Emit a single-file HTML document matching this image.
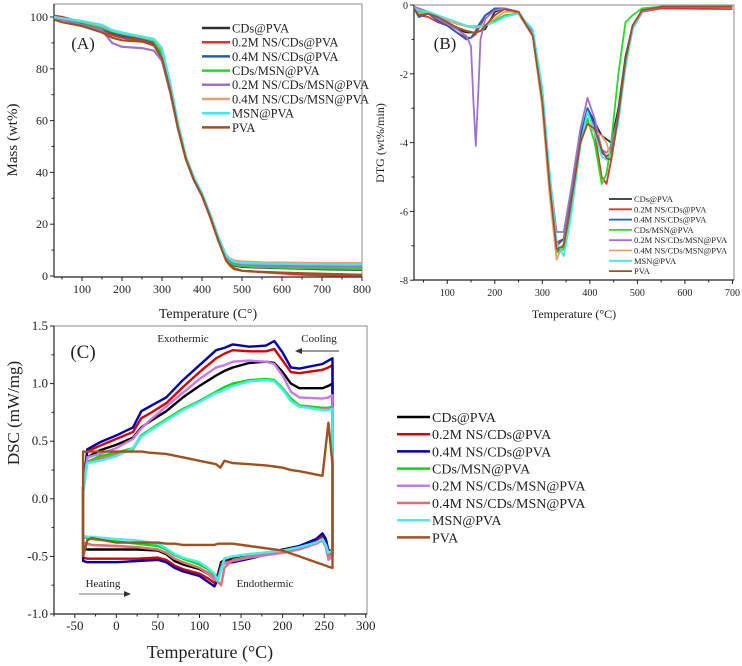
<!DOCTYPE html>
<html><head><meta charset="utf-8"><style>
html,body{margin:0;padding:0;background:#fff;}
svg{display:block;font-family:"Liberation Serif",serif;}
</style></head><body>
<svg id="fig" width="742" height="666" viewBox="0 0 742 666" xmlns="http://www.w3.org/2000/svg">
<defs>
<clipPath id="clipA"><rect x="54" y="4" width="308" height="273"/></clipPath>
<clipPath id="clipB"><rect x="414" y="5" width="320" height="275"/></clipPath>
<clipPath id="clipC"><rect x="54" y="326" width="313" height="288"/></clipPath>
</defs>
<g id="panelA"></g>
<g id="panelB"></g>
<g id="panelC"></g>
</svg>
<script>
// ---------- data ----------
const seriesNames = ["CDs@PVA","0.2M NS/CDs@PVA","0.4M NS/CDs@PVA","CDs/MSN@PVA","0.2M NS/CDs/MSN@PVA","0.4M NS/CDs/MSN@PVA","MSN@PVA","PVA"];
const colorsAB = ["#303030","#e03030","#1f5fbf","#22dd22","#a070d0","#e8a070","#40e8f0","#a0521e"];
const colorsC = ["#000000","#d80000","#0000b0","#00e000","#c878e8","#e07070","#40f0f0","#a0521e"];

// Panel A: TGA
const tempA = [30,50,100,150,175,200,250,280,300,320,340,360,380,400,420,440,460,470,480,500,550,600,650,700,750,800];
const massCDs = [100,99,97.5,95,93.5,92.5,91.5,90,85,72,57,45,37,31,23,14.5,7,5,4,3.5,3.2,3,2.8,2.6,2.5,2.4];
const mass02NS = [100.5,100,98,95,93,92,91,89.5,85,72,57,45,37,31,23,14,6.5,4.5,3,2,1.5,1,0.5,0.3,0.2,0.2];
const mass04NS = [100,99.3,97.8,95.5,94,93,91.8,90.3,85.5,72.5,57.5,45.5,37.5,31.5,23.5,15,7.5,5.5,4.6,4.2,4,3.9,3.8,3.8,3.7,3.7];
const massCDsMSN = [100,99.4,98,96,94.5,93.5,92,90.8,86,73,58,45.5,37.5,31.5,23.5,15,7.5,5.5,4.3,3.8,3.4,3.2,3,2.9,2.8,2.7];
const mass02NSMSN = [100,99,97,95,90,88.5,88,87,83,71,57,45,37,31,23,14.5,7.5,6,5,4.5,4,4,3.8,3.7,3.6,3.5];
const mass04NSMSN = [100,99.5,98.3,96.5,94.8,93.8,92.3,91.2,87.5,74.5,59,46,38,32,24,15.5,8.2,6.8,6,5.6,5.3,5.2,5.1,5,5,5];
const massMSN = [100,99.5,98.5,97,95,94,92.5,91.5,88,75,59,46,38,32,24,15.5,8,6.5,5.5,5,4.8,4.7,4.6,4.5,4.4,4.4];
const massPVA = [99,98,96.5,94,92,91,90.5,89,84,72,57,45,37,31,23,14,6,4,2.7,2,1.6,1.3,1.1,0.9,0.7,0.5];
const massSeries = [massCDs,mass02NS,mass04NS,massCDsMSN,mass02NSMSN,mass04NSMSN,massMSN,massPVA];
const ticksAx = [100,200,300,400,500,600,700,800];
const ticksAy = [0,20,40,60,80,100];

// Panel B: DTG
const tempB = [30,40,60,80,100,120,140,150,155,160,165,170,180,200,220,250,280,300,315,330,345,360,380,395,410,425,435,445,460,475,490,510,550,700];
const dtgCDs = [-0.1,-0.3,-0.25,-0.4,-0.55,-0.7,-0.8,-0.8,-0.8,-0.8,-0.78,-0.75,-0.7,-0.2,-0.1,-0.2,-0.9,-2.9,-5.3,-7.2,-7.0,-5.8,-3.9,-3.0,-3.4,-3.8,-3.9,-4.0,-3.0,-1.5,-0.6,-0.15,-0.05,-0.05];
const dtg02NS = [-0.1,-0.3,-0.35,-0.5,-0.6,-0.8,-0.95,-0.95,-0.9,-0.85,-0.7,-0.6,-0.3,-0.15,-0.12,-0.25,-0.9,-2.8,-5.1,-6.9,-6.8,-5.7,-3.9,-3.1,-3.7,-5.0,-5.2,-4.5,-3.3,-1.8,-0.7,-0.2,-0.1,-0.12];
const dtg04NS = [-0.1,-0.35,-0.25,-0.45,-0.6,-0.8,-1.0,-0.95,-0.85,-0.75,-0.6,-0.5,-0.3,-0.1,-0.1,-0.2,-0.9,-2.9,-5.2,-7.0,-6.8,-5.6,-3.8,-3.0,-3.5,-4.3,-4.4,-4.3,-3.1,-1.6,-0.6,-0.15,-0.05,-0.05];
const dtgCDsMSN = [-0.1,-0.2,-0.2,-0.3,-0.4,-0.5,-0.6,-0.62,-0.62,-0.62,-0.62,-0.6,-0.6,-0.45,-0.3,-0.25,-0.8,-2.7,-5.1,-7.2,-7.1,-5.9,-4.0,-3.3,-4.0,-5.2,-4.9,-4.0,-2.0,-0.5,-0.3,-0.1,-0.05,-0.05];
const dtg02NSMSN = [-0.05,-0.1,-0.2,-0.4,-0.55,-0.7,-0.9,-1.2,-2.8,-4.1,-2.6,-1.0,-0.4,-0.15,-0.1,-0.2,-0.8,-2.6,-4.9,-6.6,-6.6,-5.4,-3.6,-2.7,-3.3,-4.2,-4.3,-4.1,-3.2,-1.7,-0.7,-0.2,-0.05,-0.05];
const dtg04NSMSN = [-0.1,-0.25,-0.25,-0.35,-0.45,-0.55,-0.62,-0.65,-0.66,-0.66,-0.65,-0.63,-0.6,-0.4,-0.2,-0.2,-0.9,-3.0,-5.5,-7.4,-6.9,-5.8,-4.0,-3.45,-3.7,-3.8,-4.0,-4.5,-3.2,-1.7,-0.7,-0.15,-0.05,-0.05];
const dtgMSN = [-0.1,-0.15,-0.2,-0.3,-0.4,-0.5,-0.6,-0.62,-0.63,-0.65,-0.63,-0.62,-0.6,-0.5,-0.35,-0.25,-0.7,-2.4,-4.8,-6.9,-7.3,-6.2,-4.1,-3.1,-3.7,-4.4,-4.5,-4.4,-3.4,-1.8,-0.7,-0.15,-0.05,-0.05];
const dtgPVA = [-0.1,-0.3,-0.25,-0.35,-0.5,-0.65,-0.75,-0.78,-0.8,-0.8,-0.78,-0.75,-0.6,-0.3,-0.12,-0.2,-0.9,-2.8,-5.2,-7.1,-7.0,-5.8,-4.0,-3.45,-3.6,-4.2,-4.45,-4.5,-3.2,-1.6,-0.6,-0.15,-0.05,-0.05];
const dtgSeries = [dtgCDs,dtg02NS,dtg04NS,dtgCDsMSN,dtg02NSMSN,dtg04NSMSN,dtgMSN,dtgPVA];
const ticksBx = [100,200,300,400,500,600,700];
const ticksBy = [0,-2,-4,-6,-8];

// Panel C: DSC
const tempHeat = [-40,-35,-30,0,25,50,60,70,80,100,110,118,122,126,130,140,160,200,220,240,248,252,255,260];
const tempCool = [260,255,248,220,210,200,190,180,160,140,130,125,120,100,80,60,40,30,20,0,-20,-35,-40];
const heatCDs = [-0.43,-0.44,-0.44,-0.44,-0.44,-0.45,-0.48,-0.54,-0.57,-0.61,-0.65,-0.7,-0.66,-0.55,-0.53,-0.52,-0.5,-0.44,-0.41,-0.37,-0.33,-0.38,-0.46,-0.46];
const heat02NS = [-0.51,-0.52,-0.52,-0.52,-0.52,-0.51,-0.53,-0.58,-0.61,-0.65,-0.69,-0.73,-0.68,-0.57,-0.55,-0.54,-0.51,-0.45,-0.42,-0.37,-0.33,-0.38,-0.48,-0.48];
const heat04NS = [-0.54,-0.55,-0.55,-0.55,-0.54,-0.53,-0.55,-0.6,-0.63,-0.67,-0.72,-0.76,-0.7,-0.58,-0.56,-0.55,-0.52,-0.45,-0.41,-0.35,-0.3,-0.35,-0.45,-0.45];
const heatCDsMSN = [-0.33,-0.34,-0.35,-0.37,-0.39,-0.41,-0.44,-0.49,-0.52,-0.57,-0.61,-0.66,-0.7,-0.6,-0.52,-0.5,-0.48,-0.46,-0.43,-0.39,-0.36,-0.41,-0.5,-0.48];
const heat02NSMSN = [-0.38,-0.39,-0.4,-0.41,-0.42,-0.44,-0.47,-0.52,-0.55,-0.6,-0.65,-0.7,-0.72,-0.6,-0.56,-0.54,-0.51,-0.47,-0.44,-0.39,-0.36,-0.42,-0.53,-0.5];
const heat04NSMSN = [-0.38,-0.39,-0.4,-0.41,-0.42,-0.44,-0.47,-0.52,-0.55,-0.6,-0.64,-0.68,-0.72,-0.75,-0.6,-0.53,-0.5,-0.46,-0.43,-0.39,-0.36,-0.41,-0.5,-0.48];
const heatMSN = [-0.32,-0.33,-0.33,-0.35,-0.36,-0.39,-0.43,-0.48,-0.51,-0.55,-0.6,-0.65,-0.71,-0.62,-0.52,-0.5,-0.48,-0.45,-0.42,-0.38,-0.35,-0.4,-0.47,-0.45];
const heatPVA = [-0.5,-0.36,-0.34,-0.38,-0.38,-0.38,-0.39,-0.39,-0.4,-0.4,-0.4,-0.4,-0.39,-0.39,-0.39,-0.39,-0.41,-0.45,-0.5,-0.55,-0.57,-0.58,-0.59,-0.6];
const coolCDs = [1.0,0.98,0.96,0.96,1.0,1.1,1.18,1.19,1.18,1.14,1.11,1.09,1.07,0.98,0.88,0.76,0.67,0.62,0.53,0.47,0.42,0.36,0.1];
const cool02NS = [1.16,1.14,1.12,1.09,1.1,1.2,1.3,1.28,1.28,1.29,1.26,1.24,1.22,1.10,0.97,0.83,0.74,0.70,0.58,0.52,0.46,0.41,0.1];
const cool04NS = [1.22,1.2,1.17,1.13,1.14,1.27,1.37,1.33,1.32,1.34,1.31,1.30,1.29,1.16,1.03,0.88,0.8,0.76,0.62,0.55,0.49,0.43,0.1];
const coolCDsMSN = [0.8,0.79,0.79,0.81,0.87,0.96,1.03,1.04,1.03,1.0,0.97,0.95,0.93,0.85,0.78,0.69,0.60,0.55,0.44,0.40,0.37,0.32,0.05];
const cool02NSMSN = [0.9,0.88,0.87,0.88,0.93,1.07,1.17,1.19,1.2,1.19,1.16,1.15,1.14,1.04,0.92,0.80,0.68,0.61,0.52,0.44,0.39,0.36,0.1];
const cool04NSMSN = [0.79,0.78,0.78,0.80,0.85,0.95,1.02,1.03,1.02,0.98,0.95,0.93,0.92,0.84,0.77,0.68,0.59,0.54,0.43,0.38,0.35,0.31,0.05];
const coolMSN = [0.78,0.77,0.77,0.80,0.85,0.95,1.02,1.03,1.02,0.98,0.95,0.93,0.92,0.84,0.77,0.68,0.59,0.54,0.44,0.37,0.33,0.31,0.05];
const coolPVA = [0.3,0.66,0.2,0.24,0.25,0.27,0.28,0.29,0.30,0.31,0.33,0.27,0.30,0.33,0.36,0.39,0.40,0.41,0.41,0.41,0.41,0.41,0.41];
const heatSeries = [heatCDs,heat02NS,heat04NS,heatCDsMSN,heat02NSMSN,heat04NSMSN,heatMSN,heatPVA];
const coolSeries = [coolCDs,cool02NS,cool04NS,coolCDsMSN,cool02NSMSN,cool04NSMSN,coolMSN,coolPVA];
const ticksCx = [-50,0,50,100,150,200,250,300];
const ticksCy = [-1.0,-0.5,0.0,0.5,1.0,1.5];

// ---------- helpers ----------
const NS = "http://www.w3.org/2000/svg";
function mk(parent, tag, attrs, text) {
  const el = document.createElementNS(NS, tag);
  for (const k in attrs) el.setAttribute(k, attrs[k]);
  if (text !== undefined) el.textContent = text;
  parent.appendChild(el);
  return el;
}
function linePath(xs, ys, sx, sy) {
  return xs.map((x, i) => (i ? "L" : "M") + sx(x).toFixed(1) + "," + sy(ys[i]).toFixed(1)).join("");
}
function drawFrame(g, x0, y0, x1, y1) {
  const r = mk(g, "rect", {x:x0, y:y0, width:x1-x0, height:y1-y0, fill:"none", stroke:"#8a8a8a", "stroke-width":1});
  
  
  const ax = mk(g, "line", {x1:x0, y1:y1, x2:x1, y2:y1, stroke:"#222", "stroke-width":1.2});
  
  
  const ay = mk(g, "line", {x1:x0, y1:y0, x2:x0, y2:y1, stroke:"#222", "stroke-width":1.2});
  
  
}
function drawXTicks(g, ticks, sx, yb, fs, fmt, minorStep) {
  ticks.forEach(t => {
    const X = sx(t);
    mk(g, "line", {x1:X, y1:yb, x2:X, y2:yb+4, stroke:"#222"});
    const tx = mk(g, "text", {x:X, y:yb+16, "font-size":fs, "text-anchor":"middle", fill:"#222"}, fmt(t));
    
    
    const m = sx(t - minorStep);
    mk(g, "line", {x1:m, y1:yb, x2:m, y2:yb+2.5, stroke:"#222"});
  });
}
function drawYTicks(g, ticks, sy, xl, fs, fmt) {
  ticks.forEach((t, i) => {
    const Y = sy(t);
    mk(g, "line", {x1:xl-4, y1:Y, x2:xl, y2:Y, stroke:"#222"});
    const tx = mk(g, "text", {x:xl-6, y:Y+4, "font-size":fs, "text-anchor":"end", fill:"#222"}, fmt(t));
    
    
    if (i < ticks.length - 1) {
      const m = (Y + sy(ticks[i+1])) / 2;
      mk(g, "line", {x1:xl-2.5, y1:m, x2:xl, y2:m, stroke:"#222"});
    }
  });
}
function drawLegend(g, x, y, dy, len, fs, colors, sw) {
  seriesNames.forEach((n, i) => {
    const ent = mk(g, "g", {});
    
    
    mk(ent, "line", {x1:x, y1:y+i*dy, x2:x+len, y2:y+i*dy, stroke:colors[i], "stroke-width":sw});
    mk(ent, "text", {x:x+len+2, y:y+i*dy+fs*0.35, "font-size":fs, fill:"#222"}, n);
  });
}
function label(g, x, y, fs, txt, name, rot, anchor) {
  const a = {x:x, y:y, "font-size":fs, fill:"#222", "text-anchor":anchor||"middle"};
  if (rot) a.transform = "rotate(-90 " + x + " " + y + ")";
  const t = mk(g, "text", a, txt);
  
  
  return t;
}

// ---------- Panel A ----------
(function(){
  const g = document.getElementById("panelA");
  const sx = T => 54 + (T - 30) * (308 / 770);
  const sy = m => 276 - m * 2.59;
  drawFrame(g, 54, 4, 362, 277);
  const lines = mk(g, "g", {"clip-path":"url(#clipA)"});
  massSeries.forEach((ys, i) => {
    const p = mk(lines, "path", {d:linePath(tempA, ys, sx, sy), fill:"none", stroke:colorsAB[i], "stroke-width":2.2, "stroke-linejoin":"round"});
    
    
  });
  drawXTicks(g, ticksAx, sx, 277, 12, t => String(t), 50);
  drawYTicks(g, ticksAy, sy, 54, 12, t => String(t));
  drawLegend(g, 202, 28, 14.2, 28, 12.5, colorsAB, 2.5);
  label(g, 83, 49, 17, "(A)", "panel-a-label", false);
  label(g, 208, 318, 14, "Temperature (C°)", "x-axis-title", false);
  label(g, 17, 140, 15, "Mass (wt%)", "y-axis-title", true);
})();

// ---------- Panel B ----------
(function(){
  const g = document.getElementById("panelB");
  const sx = T => 414 + (T - 30) * 0.4753;
  const sy = v => 5 - v * 34.4;
  drawFrame(g, 414, 5, 734, 280);
  const lines = mk(g, "g", {"clip-path":"url(#clipB)"});
  dtgSeries.forEach((ys, i) => {
    const p = mk(lines, "path", {d:linePath(tempB, ys, sx, sy), fill:"none", stroke:colorsAB[i], "stroke-width":1.8, "stroke-linejoin":"round"});
    
    
  });
  drawXTicks(g, ticksBx, sx, 280, 10, t => String(t), 50);
  drawYTicks(g, ticksBy, sy, 414, 10, t => String(t));
  drawLegend(g, 609, 199, 10.3, 23, 8.5, colorsAB, 1.8);
  label(g, 445, 49, 17, "(B)", "panel-b-label", false);
  label(g, 574, 318, 12, "Temperature (°C)", "x-axis-title", false);
  label(g, 384, 143, 12, "DTG (wt%/min)", "y-axis-title", true);
})();

// ---------- Panel C ----------
(function(){
  const g = document.getElementById("panelC");
  const sx = T => 54 + (T + 75) * 0.8314;
  const sy = v => 614 - (v + 1) * 115.2;
  drawFrame(g, 54, 326, 367, 614);
  const lines = mk(g, "g", {"clip-path":"url(#clipC)"});
  heatSeries.forEach((hs, i) => {
    const d = linePath(tempHeat, hs, sx, sy) + linePath(tempCool, coolSeries[i], sx, sy).replace(/^M/, "L") + "Z";
    const p = mk(lines, "path", {d:d, fill:"none", stroke:colorsC[i], "stroke-width":2.4, "stroke-linejoin":"round"});
    
    
  });
  drawXTicks(g, ticksCx, sx, 614, 13, t => String(t), 25);
  drawYTicks(g, ticksCy, sy, 54, 13, t => t.toFixed(1));
  drawLegend(g, 397, 417, 17.2, 33, 14, colorsC, 2.5);
  label(g, 83, 358, 19, "(C)", "panel-c-label", false);
  label(g, 183, 342, 11, "Exothermic", "exothermic-annotation", false);
  label(g, 319, 342, 11, "Cooling", "cooling-annotation", false);
  label(g, 103, 587, 11, "Heating", "heating-annotation", false);
  label(g, 265, 587, 11, "Endothermic", "endothermic-annotation", false);
  const a1 = mk(g, "g", {});
  
  
  mk(a1, "line", {x1:339, y1:351, x2:300, y2:351, stroke:"#333", "stroke-width":1});
  mk(a1, "path", {d:"M295,351 L302,348 L302,354 Z", fill:"#333"});
  const a2 = mk(g, "g", {});
  
  
  mk(a2, "line", {x1:79, y1:594, x2:126, y2:594, stroke:"#777", "stroke-width":1});
  mk(a2, "path", {d:"M131,594 L124,591 L124,597 Z", fill:"#333"});
  label(g, 210, 658, 18, "Temperature (°C)", "x-axis-title", false);
  label(g, 19, 413, 17, "DSC (mW/mg)", "y-axis-title", true);
})();
</script>
</body></html>
